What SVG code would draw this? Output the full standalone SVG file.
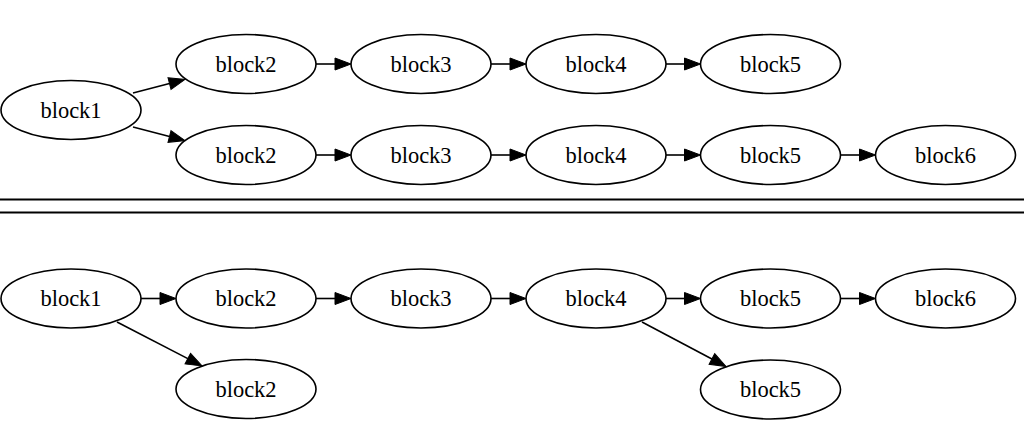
<svg xmlns="http://www.w3.org/2000/svg" width="1024" height="427" viewBox="0 0 1024 427">
<style>
.n ellipse{fill:#fff;stroke:#000;stroke-width:1.6}
.e line{stroke:#000;stroke-width:1.6;marker-end:url(#ah)}
.sep{stroke:#000;stroke-width:1.8}
</style>
<defs>
<marker id="ah" markerUnits="userSpaceOnUse" markerWidth="17" markerHeight="13" refX="0" refY="6" orient="auto" overflow="visible">
<path d="M0,0 L16,6 L0,12 z" fill="#000" stroke="#000" stroke-width="1"/>
</marker>
</defs>
<rect width="1024" height="427" fill="#fff"/>
<g id="nodes" font-family="Liberation Serif" font-size="22.5" text-anchor="middle" fill="#000">
<g id="top-b1" class="n"><ellipse cx="71" cy="110" rx="70" ry="29.5"/><text x="71" y="117.5">block1</text></g>
<g id="top-r1-b2" class="n"><ellipse cx="246" cy="64" rx="70" ry="29.5"/><text x="246" y="71.5">block2</text></g>
<g id="top-r1-b3" class="n"><ellipse cx="421" cy="64" rx="70" ry="29.5"/><text x="421" y="71.5">block3</text></g>
<g id="top-r1-b4" class="n"><ellipse cx="596" cy="64" rx="70" ry="29.5"/><text x="596" y="71.5">block4</text></g>
<g id="top-r1-b5" class="n"><ellipse cx="770.5" cy="64" rx="70" ry="29.5"/><text x="770.5" y="71.5">block5</text></g>
<g id="top-r2-b2" class="n"><ellipse cx="246" cy="155" rx="70" ry="29.5"/><text x="246" y="162.5">block2</text></g>
<g id="top-r2-b3" class="n"><ellipse cx="421" cy="155" rx="70" ry="29.5"/><text x="421" y="162.5">block3</text></g>
<g id="top-r2-b4" class="n"><ellipse cx="596" cy="155" rx="70" ry="29.5"/><text x="596" y="162.5">block4</text></g>
<g id="top-r2-b5" class="n"><ellipse cx="770.5" cy="155" rx="70" ry="29.5"/><text x="770.5" y="162.5">block5</text></g>
<g id="top-r2-b6" class="n"><ellipse cx="945.5" cy="155" rx="70" ry="29.5"/><text x="945.5" y="162.5">block6</text></g>
<g id="bot-b1" class="n"><ellipse cx="71" cy="298.5" rx="70" ry="29.5"/><text x="71" y="306">block1</text></g>
<g id="bot-b2" class="n"><ellipse cx="246" cy="298.5" rx="70" ry="29.5"/><text x="246" y="306">block2</text></g>
<g id="bot-b3" class="n"><ellipse cx="421" cy="298.5" rx="70" ry="29.5"/><text x="421" y="306">block3</text></g>
<g id="bot-b4" class="n"><ellipse cx="596" cy="298.5" rx="70" ry="29.5"/><text x="596" y="306">block4</text></g>
<g id="bot-b5" class="n"><ellipse cx="770.5" cy="298.5" rx="70" ry="29.5"/><text x="770.5" y="306">block5</text></g>
<g id="bot-b6" class="n"><ellipse cx="945.5" cy="298.5" rx="70" ry="29.5"/><text x="945.5" y="306">block6</text></g>
<g id="bot-low-b2" class="n"><ellipse cx="246" cy="389" rx="70" ry="29.5"/><text x="246" y="396.5">block2</text></g>
<g id="bot-low-b5" class="n"><ellipse cx="770.5" cy="389.5" rx="70" ry="29.5"/><text x="770.5" y="397">block5</text></g>
</g>
<g id="separator">
<line class="sep" x1="0" y1="199.5" x2="1024" y2="199.5"/>
<line class="sep" x1="0" y1="212.5" x2="1024" y2="212.5"/>
</g>
<g id="edges" class="e">
<line x1="133" y1="93" x2="169.5" y2="83.5"/>
<line x1="133" y1="127" x2="169.5" y2="136.5"/>
<line x1="316" y1="64" x2="335" y2="64"/>
<line x1="491" y1="64" x2="510" y2="64"/>
<line x1="666" y1="64" x2="684.5" y2="64"/>
<line x1="316" y1="155" x2="335" y2="155"/>
<line x1="491" y1="155" x2="510" y2="155"/>
<line x1="666" y1="155" x2="684.5" y2="155"/>
<line x1="840.5" y1="155" x2="859.5" y2="155"/>
<line x1="141" y1="298.5" x2="160" y2="298.5"/>
<line x1="316" y1="298.5" x2="335" y2="298.5"/>
<line x1="491" y1="298.5" x2="510" y2="298.5"/>
<line x1="666" y1="298.5" x2="684.5" y2="298.5"/>
<line x1="840.5" y1="298.5" x2="859.5" y2="298.5"/>
<line x1="117" y1="322" x2="187.8" y2="358.6"/>
<line x1="642" y1="322" x2="711.9" y2="359"/>
</g>
</svg>
